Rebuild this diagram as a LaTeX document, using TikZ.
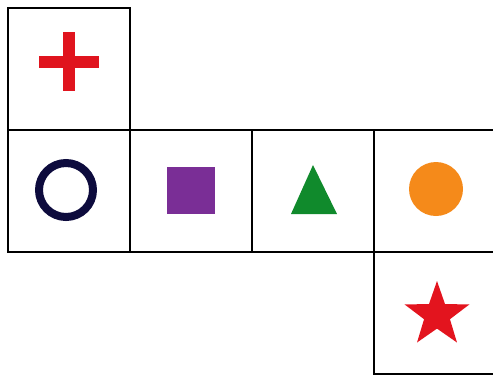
\documentclass[tikz,border=0pt]{standalone}
\usetikzlibrary{shapes.geometric}
\definecolor{crossred}{HTML}{E0141E}
\definecolor{ringnavy}{HTML}{0D0B3D}
\definecolor{sqpurple}{HTML}{7A2E96}
\definecolor{trigreen}{HTML}{108A2C}
\definecolor{dotorange}{HTML}{F58A1A}
\definecolor{starred}{HTML}{E3141E}
\tikzset{
  cell/.style={draw=black, line width=2.6pt, minimum width=122pt, minimum height=122pt, inner sep=0pt, outer sep=0pt},
}
\begin{document}
\begin{tikzpicture}[x=1pt,y=-1pt]
\useasboundingbox (0,0) rectangle (493,376);
\clip (0,0) rectangle (493,376);
\node[cell] (c0) at (69,69) {};
\node[cell] (c1) at (69,191) {};
\node[cell] (c2) at (191,191) {};
\node[cell] (c3) at (313,191) {};
\node[cell] (c4) at (435,191) {};
\node[cell] (c5) at (435,313) {};
% cross
\fill[crossred] (39,56) rectangle (99,68);
\fill[crossred] (63,32) rectangle (75,91);
% ring
\draw[ringnavy, line width=8pt] (66,190) circle (27);
% square
\fill[sqpurple] (167,167) rectangle (215,214);
% triangle
\fill[trigreen] (313,165) -- (337,214) -- (291,214) -- cycle;
% orange dot
\fill[dotorange] (436,189) circle (27);
% star
\node[star, star points=5, star point ratio=2.5, fill=starred, minimum size=68pt, inner sep=0pt] (st) at (437,315) {};
\end{tikzpicture}
\end{document}
